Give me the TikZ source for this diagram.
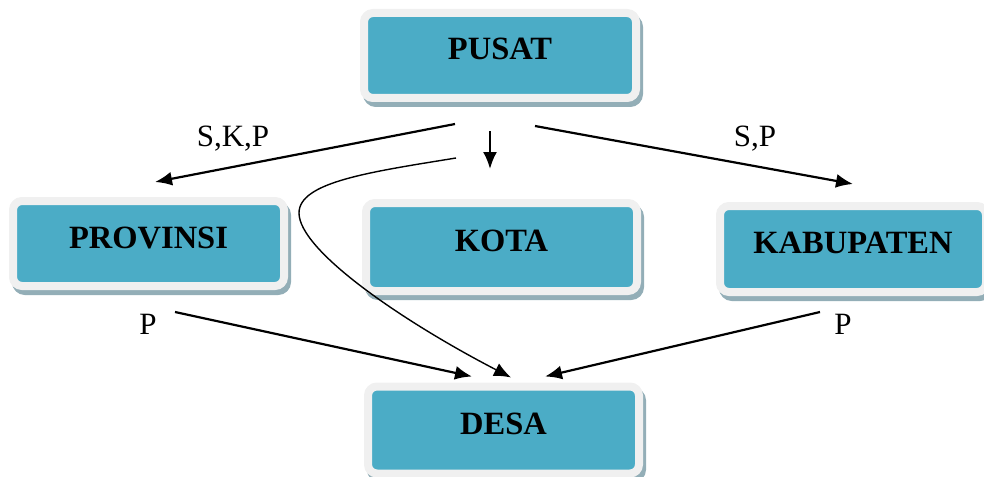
\documentclass[tikz,border=0pt]{standalone}
\usepackage{fontspec}
\setmainfont{Liberation Serif}
\usetikzlibrary{arrows.meta,calc}
\definecolor{teal1}{HTML}{4BACC6}
\definecolor{rim}{HTML}{F0F0F0}
\definecolor{shade}{HTML}{93AEB7}
\tikzset{
  unitbox/.style={rectangle, rounded corners=9pt, draw=rim, line width=8pt, fill=teal1,
    preaction={draw=shade, fill=shade, line width=8pt, transform canvas={xshift=3pt,yshift=-5pt}},
    font=\fontsize{32.5}{36}\selectfont\bfseries, text height=23pt, text depth=14pt, inner sep=0pt},
  arr/.style={line width=2.2pt, -{Latex[length=17pt,width=14pt]}},
  carr/.style={line width=1.4pt, -{Latex[length=17pt,width=14pt]}},
  lbl/.style={font=\fontsize{31}{34}\selectfont, inner sep=0pt}
}
\begin{document}
\begin{tikzpicture}[x=1pt,y=-1pt]
\useasboundingbox (0,0) rectangle (984,476);
\node[unitbox, minimum width=272pt, minimum height=85pt] (pusat) at (500,55.5) {PUSAT};
\node[unitbox, minimum width=271pt, minimum height=85pt] (prov) at (148.5,243.5) {PROVINSI};
\node[unitbox, minimum width=271pt, minimum height=88pt] (kota) at (501.5,247) {KOTA};
\node[unitbox, minimum width=266pt, minimum height=86pt] (kab) at (853,249) {KABUPATEN};
\node[unitbox, minimum width=271pt, minimum height=87pt] (desa) at (503.5,430) {DESA};

\draw[arr] ($(pusat.south)+(-45,22)$) -- ($(prov.north)+(6.5,-15)$);
\draw[arr] ($(pusat.south)+(-10,29)$) -- ($(kota.north)+(-11.5,-30)$);
\draw[arr] ($(pusat.south)+(35,24)$) -- ($(kab.north)+(0,-18)$);
\draw[carr] ($(pusat.south)+(-44,56)$) .. controls (370,172) and (299,182) .. (299,213)
   .. controls (299,250) and (400,320) .. ($(desa.north)+(7.5,-5)$);
\draw[arr] ($(prov.south)+(26.5,22)$) -- ($(desa.north)+(-31.5,-6)$);
\draw[arr] ($(kab.south)+(-33,16)$) -- ($(desa.north)+(41.5,-6)$);

\node[lbl] (l1) at (233,139) {S,K,P};
\node[lbl] (l2) at (755,139) {S,P};
\node[lbl] (l3) at (148,324) {P};
\node[lbl] (l4) at (843,324) {P};
\end{tikzpicture}
\end{document}
